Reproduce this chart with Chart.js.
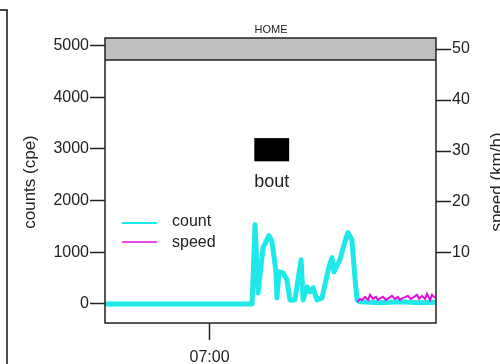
<!DOCTYPE html>
<html>
<head>
<meta charset="utf-8">
<script src="https://cdn.jsdelivr.net/npm/chart.js@4.4.1/dist/chart.umd.min.js"></script>
<style>
  html, body { margin: 0; padding: 0; background: #fff; }
  canvas { display: block; }
</style>
</head>
<body>
<canvas id="chart" width="500" height="364"></canvas>
<script>
// times are minutes after midnight
var countTimes = [378, 437.1, 438.3, 439.5, 441.5, 443.9, 445.1, 446.7, 447.1, 447.9, 449.5, 451.1, 452.3, 454.3, 456.8, 457.6, 459.2, 460.4, 461.6, 463.2, 465.2, 466.8, 468.0, 469.2, 470.0, 472.4, 474.4, 475.6, 477.2, 478.4, 479.3, 480.5, 488.5, 496.5, 504.6, 511];
var countValues = [0, 0, 1535, 214, 1088, 1321, 1205, 622, 117, 622, 602, 466, 78, 78, 855, 78, 330, 233, 311, 78, 117, 466, 719, 894, 622, 855, 1205, 1380, 1244, 525, 78, 40, 25, 40, 25, 35];

var speedTimes = [479.3, 480.5, 481.3, 482.5, 483.7, 484.5, 485.7, 486.9, 487.7, 488.9, 489.7, 490.9, 492.1, 493.3, 494.5, 495.7, 496.5, 497.7, 498.9, 499.7, 500.9, 502.2, 503.4, 504.2, 505.4, 506.6, 507.4, 508.6, 509.4, 510.6];
var speedValues = [0.4, 1.0, 0.8, 1.4, 0.8, 1.8, 1.0, 1.4, 0.8, 1.2, 1.4, 0.8, 1.2, 1.6, 1.0, 1.4, 0.8, 1.2, 1.4, 1.6, 1.0, 1.4, 1.8, 1.0, 1.6, 1.0, 2.0, 0.8, 1.8, 1.2];

var timeTicks = [420];
var countTicks = [0, 1000, 2000, 3000, 4000, 5000];
var speedTicks = [10, 20, 30, 40, 50];

var FONT = "'Liberation Sans', Arial, sans-serif";
var CYAN = '#1ee8e8';
var MAGENTA = '#e010e0';

function pad2(n) { return (n < 10 ? '0' : '') + n; }
function fmtTime(m) { return pad2(Math.floor(m / 60)) + ':' + pad2(Math.round(m % 60)); }

function toPoints(xs, ys) {
    return xs.map(function(t, i) { return {x: t, y: ys[i]}; });
}

// strip, frame, legend and labels drawn on top of the chart
var decorations = {
    id: 'decorations',
    afterDraw: function(chart) {
        var ctx = chart.ctx;
        var a = chart.chartArea;
        var xs = chart.scales.x, ys = chart.scales.y;
        ctx.save();

        // grey header strip
        ctx.fillStyle = '#c0c0c0';
        ctx.fillRect(a.left, a.top, a.right - a.left, 22);
        ctx.strokeStyle = '#222';
        ctx.lineWidth = 1.5;
        ctx.beginPath();
        ctx.moveTo(a.left, a.top + 22);
        ctx.lineTo(a.right, a.top + 22);
        ctx.stroke();
        ctx.strokeRect(a.left, a.top, a.right - a.left, a.bottom - a.top);

        // HOME title
        ctx.fillStyle = '#222';
        ctx.font = '11px ' + FONT;
        ctx.textAlign = 'center';
        ctx.textBaseline = 'middle';
        ctx.fillText('HOME', 271, 30);

        // bout marker
        var bx0 = xs.getPixelForValue(438), bx1 = xs.getPixelForValue(452);
        var by0 = ys.getPixelForValue(3210), by1 = ys.getPixelForValue(2760);
        ctx.fillStyle = '#000';
        ctx.fillRect(bx0, by0, bx1 - bx0, by1 - by0);
        ctx.fillStyle = '#222';
        ctx.font = '18px ' + FONT;
        ctx.fillText('bout', (bx0 + bx1) / 2, by1 + 21);

        // legend
        ctx.font = '16px ' + FONT;
        ctx.textAlign = 'left';
        ctx.lineWidth = 2;
        ctx.strokeStyle = CYAN;
        ctx.beginPath(); ctx.moveTo(122, 223); ctx.lineTo(157, 223); ctx.stroke();
        ctx.lineWidth = 1.5;
        ctx.strokeStyle = MAGENTA;
        ctx.beginPath(); ctx.moveTo(122, 242); ctx.lineTo(157, 242); ctx.stroke();
        ctx.fillText('count', 172, 222);
        ctx.fillText('speed', 172, 243);

        // axis titles
        ctx.font = '17px ' + FONT;
        ctx.textAlign = 'center';
        ctx.save();
        ctx.translate(30, 182);
        ctx.rotate(-Math.PI / 2);
        ctx.fillText('counts (cpe)', 0, 0);
        ctx.restore();
        ctx.save();
        ctx.translate(497, 182);
        ctx.rotate(-Math.PI / 2);
        ctx.fillText('speed (km/h)', 0, 0);
        ctx.restore();

        // outer panel edge at the left
        ctx.strokeStyle = '#111';
        ctx.lineWidth = 1.5;
        ctx.beginPath();
        ctx.moveTo(0, 10); ctx.lineTo(7, 10); ctx.lineTo(7, 364);
        ctx.stroke();

        ctx.restore();
    }
};

var ctx = document.getElementById('chart').getContext('2d');
var chart = new Chart(ctx, {
    type: 'line',
    data: {
        datasets: [
            {
                label: 'count',
                data: toPoints(countTimes, countValues),
                yAxisID: 'y',
                borderColor: CYAN,
                borderWidth: 5,
                borderJoinStyle: 'round',
                borderCapStyle: 'round',
                pointRadius: 0,
                tension: 0,
                order: 1
            },
            {
                label: 'speed',
                data: toPoints(speedTimes, speedValues),
                yAxisID: 'y1',
                borderColor: MAGENTA,
                borderWidth: 2,
                pointRadius: 0,
                tension: 0,
                order: 0
            }
        ]
    },
    options: {
        responsive: false,
        animation: false,
        devicePixelRatio: 1,
        layout: { padding: { top: 38, left: 0, right: 0, bottom: 0 } },
        plugins: { legend: { display: false }, tooltip: { enabled: false } },
        scales: {
            x: {
                type: 'linear',
                min: 378,
                max: 511,
                afterBuildTicks: function(s) { s.ticks = timeTicks.map(function(v) { return {value: v}; }); },
                afterFit: function(s) { s.height = 41; },
                grid: { drawOnChartArea: false, tickLength: 17, tickColor: '#222', tickWidth: 1.5 },
                border: { display: false },
                ticks: {
                    autoSkip: false, maxRotation: 0, padding: 8, color: '#222',
                    font: { family: FONT, size: 16 },
                    callback: function(v) { return fmtTime(v); }
                }
            },
            y: {
                position: 'left',
                min: -369,
                max: 5147,
                afterBuildTicks: function(s) { s.ticks = countTicks.map(function(v) { return {value: v}; }); },
                afterFit: function(s) { s.width = 105; },
                grid: { drawOnChartArea: false, tickLength: 15, tickColor: '#222', tickWidth: 1.5 },
                border: { display: false },
                ticks: {
                    autoSkip: false, padding: 1, color: '#222', font: { family: FONT, size: 16 },
                    callback: function(v) { return String(v); }
                }
            },
            y1: {
                position: 'right',
                min: -3.73,
                max: 52.16,
                afterBuildTicks: function(s) { s.ticks = speedTicks.map(function(v) { return {value: v}; }); },
                afterFit: function(s) { s.width = 64; },
                grid: { drawOnChartArea: false, tickLength: 15, tickColor: '#222', tickWidth: 1.5 },
                border: { display: false },
                ticks: {
                    autoSkip: false, padding: 1, color: '#222', font: { family: FONT, size: 16 },
                    callback: function(v) { return String(v); }
                }
            }
        }
    },
    plugins: [decorations]
});
</script>
</body>
</html>
